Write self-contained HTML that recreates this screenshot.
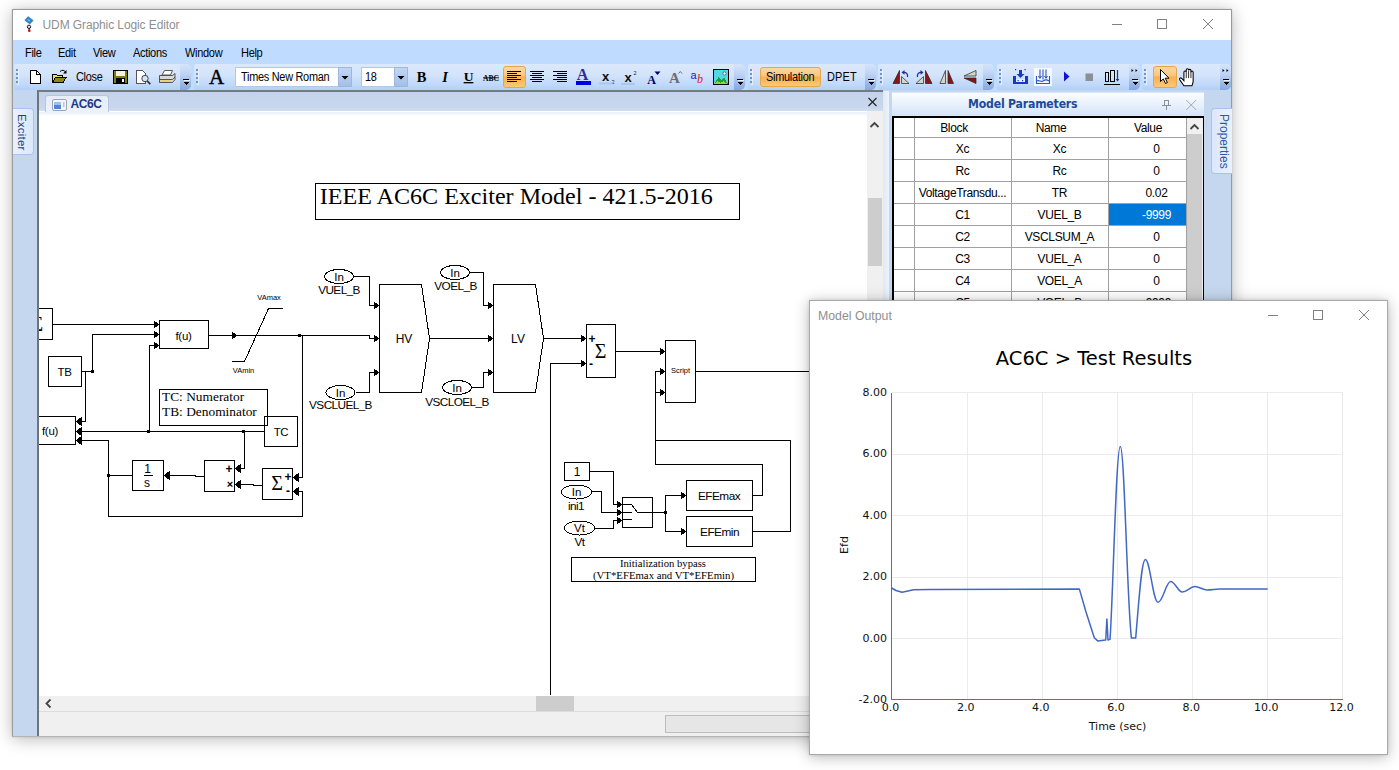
<!DOCTYPE html>
<html lang="en"><head><meta charset="utf-8"><title>UDM Graphic Logic Editor</title>
<style>
*{box-sizing:border-box;margin:0;padding:0}
html,body{width:1399px;height:770px;overflow:hidden;background:#fff}
body{position:relative;font-family:"Liberation Sans",Arial,sans-serif;font-size:12px;color:#000}
.abs{position:absolute}
#main{position:absolute;left:12px;top:9px;width:1220px;height:728px;background:#bfdbff;border:1px solid #9a9a9a;border-bottom-color:#b4b4b4;box-shadow:0 2px 16px rgba(0,0,0,.28),0 0 2px rgba(0,0,0,.12)}
#titlebar{position:absolute;left:13px;top:10px;width:1218px;height:30px;background:#fff}
#titlebar .t{position:absolute;left:29.5px;top:8px;font-size:12px;color:#8f8f8f;white-space:nowrap;letter-spacing:-.1px}
#menubar{position:absolute;left:13px;top:40px;width:1218px;height:24px;background:#bfdbff}
#menubar span{position:absolute;top:5.5px;font-size:12px;color:#000;white-space:nowrap;letter-spacing:-.35px;transform:scaleX(.92);transform-origin:0 50%}
.tb{position:absolute;top:64px;height:26px;border-radius:2px 5px 5px 2px;background:linear-gradient(#dce9fc 0%,#d2e3fb 45%,#c0d8fa 80%,#b3cff7 100%)}
.ovf{position:absolute;top:64px;height:26px;width:11px;border-radius:0 5px 5px 0;background:linear-gradient(#d5e4fa 0%,#bed3f4 40%,#9ab8e9 75%,#86a8e2 100%)}
.grip{position:absolute;top:68.5px;width:2px;height:15px;background:repeating-linear-gradient(#6a94d2 0 2px,transparent 2px 4px);box-shadow:1px 1px 0 rgba(255,255,255,.55)}
.hot{position:absolute;border:1px solid #e8a64a;border-radius:3px;background:linear-gradient(#fcd9a0 0%,#fbc57a 45%,#f9ae4e 50%,#fbc978 100%)}
.tt{position:absolute;font-size:12px;white-space:nowrap;letter-spacing:-.3px;transform:scaleX(.91);transform-origin:0 50%}
#docframe{position:absolute;left:37px;top:90px;width:846px;height:646px;background:#f0f0f0;border-left:2px solid #6d757b;border-top:2px solid #747b81}
#tabstrip{position:absolute;left:39px;top:92px;width:844px;height:20px;background:linear-gradient(#c4d3ea,#c8d7ed 80%,#d6e1f2)}
#canvas{position:absolute;left:39px;top:111px;width:828px;height:585px;background:#fff}
#vscroll{position:absolute;left:867px;top:111px;width:16px;height:585px;background:#f0f0f0}
#hscroll{position:absolute;left:39px;top:696px;width:844px;height:16px;background:#f0f0f0;border-bottom:1px solid #dcdcdc}
#status{position:absolute;left:39px;top:712px;width:1192px;height:24px;background:#f0f0f0}
.vt{position:absolute;writing-mode:vertical-rl;white-space:nowrap;font-size:12.5px;color:#1d3f80}
#mo{position:absolute;left:809px;top:300px;width:579px;height:455px;background:#fff;border:1px solid #a9a9a9;box-shadow:0 2px 14px rgba(0,0,0,.28),0 0 3px rgba(0,0,0,.12)}
svg{position:absolute;left:0;top:0;overflow:visible}
svg text{white-space:pre}
</style></head><body>

<div id="main"></div><div class="abs" style="left:13px;top:90px;width:1218px;height:646px;background:#c5d7ee"></div>
<div id="titlebar"><span class="t">UDM Graphic Logic Editor</span></div>
<div id="menubar">
<span style="left:12px">File</span>
<span style="left:45px">Edit</span>
<span style="left:80px">View</span>
<span style="left:120px">Actions</span>
<span style="left:172px">Window</span>
<span style="left:228px">Help</span>
</div>
<div class="tb" style="left:14px;width:177px"></div>
<div class="ovf" style="left:180px"></div>
<div class="grip" style="left:16px"></div>
<div class="tb" style="left:194px;width:551px"></div>
<div class="ovf" style="left:734px"></div>
<div class="grip" style="left:196px"></div>
<div class="tb" style="left:748px;width:128px"></div>
<div class="ovf" style="left:865px"></div>
<div class="grip" style="left:750px"></div>
<div class="tb" style="left:878px;width:116px"></div>
<div class="ovf" style="left:983px"></div>
<div class="grip" style="left:880px"></div>
<div class="tb" style="left:997px;width:143px"></div>
<div class="ovf" style="left:1129px"></div>
<div class="grip" style="left:999px"></div>
<div class="tb" style="left:1142px;width:89px"></div>
<div class="ovf" style="left:1220px"></div>
<div class="grip" style="left:1144px"></div>
<div class="tt" style="left:76px;top:70px">Close</div>
<div class="abs" style="left:235px;top:67px;width:117px;height:20px;background:#fff;border:1px solid #b3c8e8"></div>
<div class="abs" style="left:338px;top:67px;width:14px;height:20px;background:linear-gradient(#c3d6f3,#a4bfe8);border:1px solid #9db7df"></div>
<div class="tt" style="left:241px;top:70px">Times New Roman</div>
<div class="abs" style="left:361px;top:67px;width:47px;height:20px;background:#fff;border:1px solid #b3c8e8"></div>
<div class="abs" style="left:394px;top:67px;width:14px;height:20px;background:linear-gradient(#c3d6f3,#a4bfe8);border:1px solid #9db7df"></div>
<div class="tt" style="left:365px;top:70px">18</div>
<div class="hot" style="left:503px;top:66px;width:23px;height:22px"></div>
<div class="hot" style="left:760px;top:67px;width:61px;height:20px"></div>
<div class="hot" style="left:1153px;top:66px;width:24px;height:22px"></div>
<div class="tt" style="left:766px;top:70px">Simulation</div>
<div class="tt" style="left:827px;top:70px;letter-spacing:.2px">DPET</div>
<div id="docframe"></div><div id="tabstrip"></div><div id="canvas"></div><div id="vscroll"></div><div id="hscroll"></div><div id="status"></div>
<div class="abs" style="left:45px;top:95px;width:64px;height:17px;background:linear-gradient(#e6edf9,#edf2fa);border:1px solid #b4c6e2;border-bottom:none;border-radius:3px 3px 0 0"></div>
<div class="abs" style="left:39px;top:112px;width:828px;height:3px;background:linear-gradient(#e9eff9,#f7f9fd)"></div>
<div class="abs" style="left:70.5px;top:97px;font-size:12px;font-weight:bold;color:#1c3a82;letter-spacing:-.45px">AC6C</div>
<div class="abs" style="left:868px;top:198px;width:14px;height:68px;background:#cdcdcd"></div>
<div class="abs" style="left:536px;top:696px;width:38px;height:15px;background:#cdcdcd"></div>
<div class="abs" style="left:665px;top:715px;width:566px;height:18px;background:#e6e6e6;border:1px solid #bcbcbc"></div>
<div class="abs" style="left:883px;top:91px;width:6px;height:645px;background:linear-gradient(90deg,#dfe9f7,#eef3fb)"></div>
<div class="abs" style="left:13px;top:108px;width:21px;height:47px;background:linear-gradient(90deg,#e9f1fd,#dbe8fb);border:1px solid #a9c4ea;border-left:none;border-radius:0 4px 4px 0"></div>
<div class="vt" style="left:11.5px;top:114px;width:16px;font-size:11.5px;letter-spacing:.2px">Exciter</div>
<div class="abs" style="left:1211px;top:108px;width:21px;height:66px;background:linear-gradient(90deg,#dbe8fb,#e9f1fd);border:1px solid #a9c4ea;border-right:none;border-radius:4px 0 0 4px"></div>
<div class="vt" style="left:1215px;top:114px;width:16px;color:#2c59aa;font-size:12px">Properties</div>
<div class="abs" style="left:892px;top:92px;width:312px;height:24px;background:linear-gradient(#fbfdff,#e4eefb 60%,#d3e4f9);border-top:1px solid #dbe8fa"></div>
<div class="abs" style="left:968px;top:96px;font-family:'DejaVu Sans', Verdana, sans-serif;font-stretch:condensed;font-weight:bold;font-size:13px;color:#1d4a9a;white-space:nowrap;letter-spacing:-.2px;transform:scaleX(.935);transform-origin:0 50%">Model Parameters</div>
<div class="abs" style="left:892px;top:116px;width:312px;height:200px;background:#fff;border:2px solid #000;border-bottom:none"></div>
<div class="abs" style="left:1187px;top:118px;width:16px;height:190px;background:#f0f0f0"></div>
<div class="abs" style="left:1187px;top:134px;width:15px;height:170px;background:#cdcdcd"></div>
<div class="abs" style="left:894px;top:137px;width:292px;height:1px;background:#a0a0a0"></div>
<div class="abs" style="left:894px;top:117px;width:120px;height:22px;line-height:22px;text-align:center;font-size:12px;white-space:nowrap;letter-spacing:-.35px;color:#000">Block</div>
<div class="abs" style="left:991px;top:117px;width:120px;height:22px;line-height:22px;text-align:center;font-size:12px;white-space:nowrap;letter-spacing:-.35px;color:#000">Name</div>
<div class="abs" style="left:1088px;top:117px;width:120px;height:22px;line-height:22px;text-align:center;font-size:12px;white-space:nowrap;letter-spacing:-.35px;color:#000">Value</div>
<div class="abs" style="left:894px;top:159px;width:292px;height:1px;background:#a0a0a0"></div>
<div class="abs" style="left:902.5px;top:138px;width:120px;height:22px;line-height:22px;text-align:center;font-size:12px;white-space:nowrap;letter-spacing:-.35px;color:#000">Xc</div>
<div class="abs" style="left:999.5px;top:138px;width:120px;height:22px;line-height:22px;text-align:center;font-size:12px;white-space:nowrap;letter-spacing:-.35px;color:#000">Xc</div>
<div class="abs" style="left:1096.5px;top:138px;width:120px;height:22px;line-height:22px;text-align:center;font-size:12px;white-space:nowrap;letter-spacing:-.35px;color:#000">0</div>
<div class="abs" style="left:894px;top:181px;width:292px;height:1px;background:#a0a0a0"></div>
<div class="abs" style="left:902.5px;top:160px;width:120px;height:22px;line-height:22px;text-align:center;font-size:12px;white-space:nowrap;letter-spacing:-.35px;color:#000">Rc</div>
<div class="abs" style="left:999.5px;top:160px;width:120px;height:22px;line-height:22px;text-align:center;font-size:12px;white-space:nowrap;letter-spacing:-.35px;color:#000">Rc</div>
<div class="abs" style="left:1096.5px;top:160px;width:120px;height:22px;line-height:22px;text-align:center;font-size:12px;white-space:nowrap;letter-spacing:-.35px;color:#000">0</div>
<div class="abs" style="left:894px;top:203px;width:292px;height:1px;background:#a0a0a0"></div>
<div class="abs" style="left:902.5px;top:182px;width:120px;height:22px;line-height:22px;text-align:center;font-size:12px;white-space:nowrap;letter-spacing:-.35px;color:#000">VoltageTransdu...</div>
<div class="abs" style="left:999.5px;top:182px;width:120px;height:22px;line-height:22px;text-align:center;font-size:12px;white-space:nowrap;letter-spacing:-.35px;color:#000">TR</div>
<div class="abs" style="left:1096.5px;top:182px;width:120px;height:22px;line-height:22px;text-align:center;font-size:12px;white-space:nowrap;letter-spacing:-.35px;color:#000">0.02</div>
<div class="abs" style="left:894px;top:225px;width:292px;height:1px;background:#a0a0a0"></div>
<div class="abs" style="left:1109px;top:204px;width:77px;height:21px;background:#0078d7"></div>
<div class="abs" style="left:902.5px;top:204px;width:120px;height:22px;line-height:22px;text-align:center;font-size:12px;white-space:nowrap;letter-spacing:-.35px;color:#000">C1</div>
<div class="abs" style="left:999.5px;top:204px;width:120px;height:22px;line-height:22px;text-align:center;font-size:12px;white-space:nowrap;letter-spacing:-.35px;color:#000">VUEL_B</div>
<div class="abs" style="left:1096.5px;top:204px;width:120px;height:22px;line-height:22px;text-align:center;font-size:12px;white-space:nowrap;letter-spacing:-.35px;color:#fff">-9999</div>
<div class="abs" style="left:894px;top:247px;width:292px;height:1px;background:#a0a0a0"></div>
<div class="abs" style="left:902.5px;top:226px;width:120px;height:22px;line-height:22px;text-align:center;font-size:12px;white-space:nowrap;letter-spacing:-.35px;color:#000">C2</div>
<div class="abs" style="left:999.5px;top:226px;width:120px;height:22px;line-height:22px;text-align:center;font-size:12px;white-space:nowrap;letter-spacing:-.35px;color:#000">VSCLSUM_A</div>
<div class="abs" style="left:1096.5px;top:226px;width:120px;height:22px;line-height:22px;text-align:center;font-size:12px;white-space:nowrap;letter-spacing:-.35px;color:#000">0</div>
<div class="abs" style="left:894px;top:269px;width:292px;height:1px;background:#a0a0a0"></div>
<div class="abs" style="left:902.5px;top:248px;width:120px;height:22px;line-height:22px;text-align:center;font-size:12px;white-space:nowrap;letter-spacing:-.35px;color:#000">C3</div>
<div class="abs" style="left:999.5px;top:248px;width:120px;height:22px;line-height:22px;text-align:center;font-size:12px;white-space:nowrap;letter-spacing:-.35px;color:#000">VUEL_A</div>
<div class="abs" style="left:1096.5px;top:248px;width:120px;height:22px;line-height:22px;text-align:center;font-size:12px;white-space:nowrap;letter-spacing:-.35px;color:#000">0</div>
<div class="abs" style="left:894px;top:291px;width:292px;height:1px;background:#a0a0a0"></div>
<div class="abs" style="left:902.5px;top:270px;width:120px;height:22px;line-height:22px;text-align:center;font-size:12px;white-space:nowrap;letter-spacing:-.35px;color:#000">C4</div>
<div class="abs" style="left:999.5px;top:270px;width:120px;height:22px;line-height:22px;text-align:center;font-size:12px;white-space:nowrap;letter-spacing:-.35px;color:#000">VOEL_A</div>
<div class="abs" style="left:1096.5px;top:270px;width:120px;height:22px;line-height:22px;text-align:center;font-size:12px;white-space:nowrap;letter-spacing:-.35px;color:#000">0</div>
<div class="abs" style="left:894px;top:313px;width:292px;height:1px;background:#a0a0a0"></div>
<div class="abs" style="left:902.5px;top:292px;width:120px;height:22px;line-height:22px;text-align:center;font-size:12px;white-space:nowrap;letter-spacing:-.35px;color:#000">C5</div>
<div class="abs" style="left:999.5px;top:292px;width:120px;height:22px;line-height:22px;text-align:center;font-size:12px;white-space:nowrap;letter-spacing:-.35px;color:#000">VOEL_B</div>
<div class="abs" style="left:1096.5px;top:292px;width:120px;height:22px;line-height:22px;text-align:center;font-size:12px;white-space:nowrap;letter-spacing:-.35px;color:#000">-9999</div>
<div class="abs" style="left:914px;top:118px;width:1px;height:190px;background:#a0a0a0"></div>
<div class="abs" style="left:1011px;top:118px;width:1px;height:190px;background:#a0a0a0"></div>
<div class="abs" style="left:1108px;top:118px;width:1px;height:190px;background:#a0a0a0"></div>
<div class="abs" style="left:1186px;top:118px;width:1px;height:190px;background:#a0a0a0"></div>
<svg width="1399" height="770" viewBox="0 0 1399 770"><defs><clipPath id="cv"><rect x="39" y="111" width="828" height="585"/></clipPath></defs>
<g clip-path="url(#cv)" fill="none" stroke="#000" stroke-width="1" shape-rendering="crispEdges"><style>.f{fill:#000;stroke:none}.t{fill:#000;stroke:none}</style>
<rect x="315.5" y="183.5" width="424.0" height="36.0"/>
<text class="t" x="319.8" y="204" font-size="24" text-anchor="start" font-family="'Liberation Serif', 'Times New Roman', serif" textLength="393" lengthAdjust="spacingAndGlyphs">IEEE AC6C Exciter Model - 421.5-2016</text>
<rect x="30.5" y="308.5" width="22.0" height="31.0"/>
<text class="t" x="37.4" y="330.8" font-size="20" text-anchor="middle" font-family="'Liberation Serif', 'Times New Roman', serif" >Σ</text>
<polyline points="52.5,324.5 154.5,324.5"/>
<polygon class="f" points="159.5,324.5 153.5,320.0 153.5,329.0"/>
<rect x="159.5" y="320.5" width="49.0" height="28.0"/>
<text class="t" x="183.5" y="339.5" font-size="11.5" text-anchor="middle" font-family="'Liberation Sans', Arial, sans-serif" letter-spacing="-.3">f(u)</text>
<polyline points="92.5,371.5 92.5,334.5 154.5,334.5"/>
<polygon class="f" points="159.5,334.5 153.5,330.0 153.5,339.0"/>
<rect x="48.5" y="356.5" width="33.0" height="30.0"/>
<text class="t" x="64.5" y="376" font-size="11.5" text-anchor="middle" font-family="'Liberation Sans', Arial, sans-serif" letter-spacing="-.3">TB</text>
<polyline points="81.5,371.5 92.5,371.5"/>
<rect class="f" x="91.0" y="370.0" width="3.0" height="3.0"/>
<polyline points="85.5,371.5 85.5,421.5 80.5,421.5"/>
<polygon class="f" points="75.5,421.5 81.5,417.0 81.5,426.0"/>
<rect x="25.5" y="416.5" width="50.0" height="28.0"/>
<text class="t" x="50" y="435" font-size="11.5" text-anchor="middle" font-family="'Liberation Sans', Arial, sans-serif" letter-spacing="-.3">f(u)</text>
<polyline points="154.5,345.5 149.5,345.5 149.5,431.5"/>
<polygon class="f" points="159.5,345.5 153.5,341.0 153.5,350.0"/>
<rect class="f" x="146.5" y="430.0" width="3.0" height="3.0"/>
<polyline points="80.5,431.5 264.5,431.5"/>
<polygon class="f" points="75.5,431.5 81.5,427.0 81.5,436.0"/>
<rect class="f" x="241.5" y="430.0" width="3.0" height="3.0"/>
<polyline points="244.5,431.5 244.5,468.5 239.5,468.5"/>
<polygon class="f" points="234.5,468.5 240.5,464.0 240.5,473.0"/>
<polyline points="80.5,440.5 108.5,440.5 108.5,516.5 302.5,516.5 302.5,491.5 297.5,491.5"/>
<polygon class="f" points="75.5,440.5 81.5,436.0 81.5,445.0"/>
<polygon class="f" points="292.5,491.5 298.5,487.0 298.5,496.0"/>
<rect class="f" x="107.3" y="474.3" width="2.4" height="2.4"/>
<polyline points="108.5,475.5 132.5,475.5"/>
<rect x="132.5" y="460.5" width="31.0" height="30.0"/>
<text class="t" x="147.5" y="473" font-size="12" text-anchor="middle" font-family="'Liberation Sans', Arial, sans-serif" >1</text>
<polyline points="143.5,475.5 152.5,475.5"/>
<text class="t" x="147" y="487" font-size="12" text-anchor="middle" font-family="'Liberation Sans', Arial, sans-serif" >s</text>
<polygon class="f" points="163.5,475.5 169.5,471.0 169.5,480.0"/>
<polyline points="168.5,475.5 195.5,475.5 195.5,476.5 204.5,476.5"/>
<rect x="204.5" y="460.5" width="30.0" height="31.0"/>
<text class="t" x="229" y="473" font-size="12" text-anchor="middle" font-family="'Liberation Sans', Arial, sans-serif" font-weight="bold">+</text>
<text class="t" x="230" y="488" font-size="11" text-anchor="middle" font-family="'Liberation Sans', Arial, sans-serif" font-weight="bold">×</text>
<polygon class="f" points="234.5,484.5 240.5,480.0 240.5,489.0"/>
<polyline points="239.5,484.5 253.5,484.5 253.5,485.5 262.5,485.5"/>
<rect x="262.5" y="468.5" width="30.0" height="31.0"/>
<text class="t" x="277" y="490.3" font-size="20" text-anchor="middle" font-family="'Liberation Serif', 'Times New Roman', serif" >Σ</text>
<text class="t" x="288" y="481" font-size="12" text-anchor="middle" font-family="'Liberation Sans', Arial, sans-serif" font-weight="bold">+</text>
<text class="t" x="288" y="495" font-size="12" text-anchor="middle" font-family="'Liberation Sans', Arial, sans-serif" font-weight="bold">-</text>
<polygon class="f" points="292.5,477.5 298.5,473.0 298.5,482.0"/>
<polyline points="297.5,477.5 302.5,477.5 302.5,335.5"/>
<rect x="264.5" y="416.5" width="33.0" height="30.0"/>
<text class="t" x="281" y="436" font-size="11.5" text-anchor="middle" font-family="'Liberation Sans', Arial, sans-serif" letter-spacing="-.3">TC</text>
<rect x="159.5" y="389.5" width="108.0" height="36.0"/>
<text class="t" x="162" y="401" font-size="13.4" text-anchor="start" font-family="'Liberation Serif', 'Times New Roman', serif" >TC: Numerator</text>
<text class="t" x="162" y="416" font-size="13.4" text-anchor="start" font-family="'Liberation Serif', 'Times New Roman', serif" >TB: Denominator</text>
<polyline points="208.5,335.5 369.5,335.5 369.5,338.5 374.5,338.5"/>
<polygon class="f" points="237.5,335.5 231.5,331.0 231.5,340.0"/>
<rect class="f" x="298.0" y="334.0" width="3.0" height="3.0"/>
<polygon class="f" points="379.5,338.5 373.5,334.0 373.5,343.0"/>
<polyline points="231.5,361.5 244.5,361.5 268.5,308.5 282.5,308.5"/>
<text class="t" x="269" y="299.5" font-size="7.5" text-anchor="middle" font-family="'Liberation Sans', Arial, sans-serif" >VAmax</text>
<text class="t" x="243.5" y="373" font-size="7.5" text-anchor="middle" font-family="'Liberation Sans', Arial, sans-serif" >VAmin</text>
<ellipse cx="339" cy="276.5" rx="14.5" ry="7"/>
<text class="t" x="339" y="280.5" font-size="11.5" text-anchor="middle" font-family="'Liberation Sans', Arial, sans-serif" >In</text>
<text class="t" x="339" y="294" font-size="11.8" text-anchor="middle" font-family="'Liberation Sans', Arial, sans-serif" letter-spacing="-.6">VUEL_B</text>
<polyline points="353.5,276.5 369.5,276.5 369.5,305.5 374.5,305.5"/>
<polygon class="f" points="379.5,305.5 373.5,301.0 373.5,310.0"/>
<polygon points="379.5,284.5 421.5,284.5 429.5,338.5 421.5,392.5 379.5,392.5"/>
<text class="t" x="404" y="343" font-size="12" text-anchor="middle" font-family="'Liberation Sans', Arial, sans-serif" >HV</text>
<ellipse cx="340.5" cy="392.5" rx="14.5" ry="7"/>
<text class="t" x="340.5" y="396.5" font-size="11.5" text-anchor="middle" font-family="'Liberation Sans', Arial, sans-serif" >In</text>
<text class="t" x="340.5" y="409" font-size="11.8" text-anchor="middle" font-family="'Liberation Sans', Arial, sans-serif" letter-spacing="-.6">VSCLUEL_B</text>
<polyline points="355.5,392.5 369.5,392.5 369.5,372.5 374.5,372.5"/>
<polygon class="f" points="379.5,372.5 373.5,368.0 373.5,377.0"/>
<polyline points="429.5,338.5 488.5,338.5"/>
<polygon class="f" points="493.5,338.5 487.5,334.0 487.5,343.0"/>
<ellipse cx="455" cy="272.5" rx="14.5" ry="7"/>
<text class="t" x="455" y="276.5" font-size="11.5" text-anchor="middle" font-family="'Liberation Sans', Arial, sans-serif" >In</text>
<text class="t" x="455.5" y="290" font-size="11.8" text-anchor="middle" font-family="'Liberation Sans', Arial, sans-serif" letter-spacing="-.6">VOEL_B</text>
<polyline points="469.5,272.5 483.5,272.5 483.5,305.5 488.5,305.5"/>
<polygon class="f" points="493.5,305.5 487.5,301.0 487.5,310.0"/>
<polygon points="493.5,284.5 535.5,284.5 543.5,338.5 535.5,392.5 493.5,392.5"/>
<text class="t" x="518" y="343" font-size="12" text-anchor="middle" font-family="'Liberation Sans', Arial, sans-serif" >LV</text>
<ellipse cx="457" cy="387.5" rx="14.5" ry="7"/>
<text class="t" x="457" y="391.5" font-size="11.5" text-anchor="middle" font-family="'Liberation Sans', Arial, sans-serif" >In</text>
<text class="t" x="457" y="406" font-size="11.8" text-anchor="middle" font-family="'Liberation Sans', Arial, sans-serif" letter-spacing="-.6">VSCLOEL_B</text>
<polyline points="471.5,387.5 483.5,387.5 483.5,372.5 488.5,372.5"/>
<polygon class="f" points="493.5,372.5 487.5,368.0 487.5,377.0"/>
<polyline points="543.5,338.5 581.5,338.5"/>
<polygon class="f" points="586.5,338.5 580.5,334.0 580.5,343.0"/>
<rect x="586.5" y="324.5" width="29.0" height="53.0"/>
<text class="t" x="600.5" y="357.8" font-size="20" text-anchor="middle" font-family="'Liberation Serif', 'Times New Roman', serif" >Σ</text>
<text class="t" x="592" y="343" font-size="12" text-anchor="middle" font-family="'Liberation Sans', Arial, sans-serif" font-weight="bold">+</text>
<text class="t" x="591" y="368" font-size="12" text-anchor="middle" font-family="'Liberation Sans', Arial, sans-serif" font-weight="bold">-</text>
<polyline points="550.5,695 550.5,363.5 581.5,363.5"/>
<polygon class="f" points="586.5,363.5 580.5,359.0 580.5,368.0"/>
<polyline points="615.5,351.5 660.5,351.5"/>
<polygon class="f" points="665.5,351.5 659.5,347.0 659.5,356.0"/>
<rect x="665.5" y="340.5" width="30.0" height="62.0"/>
<text class="t" x="680.5" y="373" font-size="7.5" text-anchor="middle" font-family="'Liberation Sans', Arial, sans-serif" >Script</text>
<polyline points="695.5,371.5 812,371.5"/>
<polyline points="660.5,371.5 655.5,371.5 655.5,464.5 762.5,464.5 762.5,495.5 752.5,495.5"/>
<polygon class="f" points="665.5,371.5 659.5,367.0 659.5,376.0"/>
<polyline points="655.5,392.5 660.5,392.5"/>
<polygon class="f" points="665.5,392.5 659.5,388.0 659.5,397.0"/>
<polyline points="655.5,440.5 790.5,440.5 790.5,531.5 752.5,531.5"/>
<rect x="564.5" y="462.5" width="25.0" height="18.0"/>
<text class="t" x="577" y="476" font-size="12" text-anchor="middle" font-family="'Liberation Sans', Arial, sans-serif" >1</text>
<polyline points="589.5,471.5 613.5,471.5 613.5,504.5 617.5,504.5"/>
<polygon class="f" points="622.5,504.5 616.5,500.0 616.5,509.0"/>
<ellipse cx="576.5" cy="492" rx="15" ry="7"/>
<text class="t" x="576.5" y="496" font-size="11.5" text-anchor="middle" font-family="'Liberation Sans', Arial, sans-serif" >In</text>
<text class="t" x="576" y="510" font-size="11.8" text-anchor="middle" font-family="'Liberation Sans', Arial, sans-serif" letter-spacing="-.6">ini1</text>
<polyline points="591.5,491.5 601.5,491.5 601.5,512.5 617.5,512.5"/>
<polygon class="f" points="622.5,512.5 616.5,508.0 616.5,517.0"/>
<ellipse cx="579.5" cy="528" rx="15" ry="7"/>
<text class="t" x="579.5" y="532" font-size="11.5" text-anchor="middle" font-family="'Liberation Sans', Arial, sans-serif" >Vt</text>
<text class="t" x="579.5" y="546" font-size="11.8" text-anchor="middle" font-family="'Liberation Sans', Arial, sans-serif" letter-spacing="-.6">Vt</text>
<polyline points="594.5,528.5 613.5,528.5 613.5,520.5 617.5,520.5"/>
<polygon class="f" points="622.5,520.5 616.5,516.0 616.5,525.0"/>
<rect x="622.5" y="497.5" width="30.0" height="30.0"/>
<polyline points="622.5,504.5 631.5,504.5 637.5,512.5 665.5,512.5"/>
<polyline points="622.5,512.5 631.5,512.5"/>
<polyline points="622.5,519.5 631.5,519.5"/>
<rect class="f" x="663.5" y="511.0" width="3.0" height="3.0"/>
<polyline points="681.5,495.5 665.5,495.5 665.5,531.5 681.5,531.5"/>
<polygon class="f" points="686.5,495.5 680.5,491.0 680.5,500.0"/>
<polygon class="f" points="686.5,531.5 680.5,527.0 680.5,536.0"/>
<rect x="686.5" y="480.5" width="66.0" height="30.0"/>
<text class="t" x="719" y="500" font-size="11.8" text-anchor="middle" font-family="'Liberation Sans', Arial, sans-serif" letter-spacing="-.5">EFEmax</text>
<rect x="686.5" y="516.5" width="66.0" height="30.0"/>
<text class="t" x="719.5" y="536" font-size="11.8" text-anchor="middle" font-family="'Liberation Sans', Arial, sans-serif" letter-spacing="-.5">EFEmin</text>
<rect x="571.5" y="557.5" width="184.0" height="24.0"/>
<text class="t" x="663" y="567" font-size="10.5" text-anchor="middle" font-family="'Liberation Serif', 'Times New Roman', serif" textLength="86" lengthAdjust="spacingAndGlyphs">Initialization bypass</text>
<text class="t" x="663.5" y="578.5" font-size="10" text-anchor="middle" font-family="'Liberation Serif', 'Times New Roman', serif" textLength="141" lengthAdjust="spacingAndGlyphs">(VT*EFEmax and VT*EFEmin)</text>
</g></svg>
<svg width="1399" height="770" viewBox="0 0 1399 770"><g stroke="#808080" stroke-width="1" fill="none" shape-rendering="crispEdges"><path d="M1112,24.5h10"/><rect x="1157.5" y="19.5" width="9" height="9"/></g>
<g stroke="#808080" stroke-width="1" fill="none"><path d="M1203,19l10,10M1213,19l-10,10"/></g>
<g shape-rendering="crispEdges"><rect x="183.0" y="79" width="6" height="1" fill="#000"/><path d="M183.0,82h6l-3,3z" fill="#000"/><rect x="184.0" y="80" width="6" height="1" fill="#fff" opacity=".8"/></g>
<g shape-rendering="crispEdges"><rect x="737.0" y="79" width="6" height="1" fill="#000"/><path d="M737.0,82h6l-3,3z" fill="#000"/><rect x="738.0" y="80" width="6" height="1" fill="#fff" opacity=".8"/></g>
<g shape-rendering="crispEdges"><rect x="868.0" y="79" width="6" height="1" fill="#000"/><path d="M868.0,82h6l-3,3z" fill="#000"/><rect x="869.0" y="80" width="6" height="1" fill="#fff" opacity=".8"/></g>
<g shape-rendering="crispEdges"><rect x="986.0" y="79" width="6" height="1" fill="#000"/><path d="M986.0,82h6l-3,3z" fill="#000"/><rect x="987.0" y="80" width="6" height="1" fill="#fff" opacity=".8"/></g>
<g shape-rendering="crispEdges"><rect x="1132.0" y="79" width="6" height="1" fill="#000"/><path d="M1132.0,82h6l-3,3z" fill="#000"/><rect x="1133.0" y="80" width="6" height="1" fill="#fff" opacity=".8"/></g>
<g shape-rendering="crispEdges"><rect x="1223.0" y="79" width="6" height="1" fill="#000"/><path d="M1223.0,82h6l-3,3z" fill="#000"/><rect x="1224.0" y="80" width="6" height="1" fill="#fff" opacity=".8"/></g>
<g fill="#000"><path d="M1131.5,69l2,1.5l-2,1.5zM1135.5,69l2,1.5l-2,1.5z"/></g>
<g fill="#000"><path d="M1222.5,69l2,1.5l-2,1.5zM1226.5,69l2,1.5l-2,1.5z"/></g>
<path d="M341.5,76h7l-3.5,3.5zM397.5,76h7l-3.5,3.5z" fill="#000"/>
<g><path d="M24.8,20.2l3.2,-3.6l5.2,3.8l-3.4,3.6z" fill="#2f86c8" stroke="#2a6cb0" stroke-width=".6"/><path d="M27.5,19.5l2.5,1.6" stroke="#7fc0ee" stroke-width="1.2"/><circle cx="29" cy="26.8" r="1.7" fill="#e8e8ee" stroke="#1a1a2a" stroke-width="1"/><path d="M29.2,28.2v1.5" stroke="#222" stroke-width="1.3"/><circle cx="29.3" cy="30.7" r="1.35" fill="#c0181d"/></g>
<path d="M30.5,70.5h6l4,4v8.5h-10z" fill="#fff" stroke="#000" stroke-width="1" shape-rendering="crispEdges"/><path d="M36.5,70.5v4h4" fill="none" stroke="#000" stroke-width="1" shape-rendering="crispEdges"/>
<g shape-rendering="crispEdges"><path d="M52.5,82.5v-8h4l1,1h5v2" fill="#e8e070" stroke="#000"/><path d="M52.5,82.5l3,-5h10.5l-3,5z" fill="#8a8a1a" stroke="#000"/></g><path d="M60,71.5c2,-1.8 4.5,-1.5 5.5,.5" fill="none" stroke="#000" stroke-width="1"/><path d="M66.5,70v3.5h-3.5z" fill="#000"/>
<g shape-rendering="crispEdges"><rect x="113.5" y="70.5" width="14" height="13" fill="#7b7b12" stroke="#000"/><rect x="116" y="71" width="9" height="5" fill="#f4f2e0"/><rect x="116" y="78" width="9" height="5" fill="#000"/><rect x="122" y="79" width="2" height="3" fill="#fff"/></g>
<path d="M136.5,70.5h6l3,3v10h-9z" fill="#fff" stroke="#555" stroke-width="1" shape-rendering="crispEdges"/><circle cx="145" cy="78.5" r="3.2" fill="#cfe6f8" stroke="#444" stroke-width="1"/><path d="M147.3,81l3,3.2" stroke="#333" stroke-width="1.8"/>
<g stroke="#333" stroke-width=".8"><path d="M162,75l2.5,-4.5h8l-2,4.5z" fill="#fff"/><path d="M159.5,75.5h13l2.5,-2v6l-2.5,3h-13z" fill="#d9d9d9"/><path d="M159.5,79.5h13l2.5,-2.5" fill="none"/><rect x="160.5" y="80.3" width="10" height="1.4" fill="#e8d24a" stroke="none"/></g>
<text x="216.5" y="83.8" font-size="21" text-anchor="middle" stroke="#000" stroke-width=".45" font-family="'Liberation Serif', 'Times New Roman', serif" fill="#000">A</text>
<text x="421.5" y="81.5" font-size="14.5" font-weight="bold" text-anchor="middle" font-family="'Liberation Serif', 'Times New Roman', serif" fill="#000">B</text>
<text x="445" y="81.5" font-size="14.5" font-weight="bold" font-style="italic" text-anchor="middle" font-family="'Liberation Serif', 'Times New Roman', serif" fill="#000">I</text>
<text x="468.5" y="81" font-size="13.5" font-weight="bold" text-anchor="middle" font-family="'Liberation Serif', 'Times New Roman', serif" fill="#000" text-decoration="underline">U</text>
<text x="491" y="80.5" font-size="8.5" font-weight="bold" text-anchor="middle" font-family="'Liberation Serif', 'Times New Roman', serif" fill="#000" text-decoration="line-through" textLength="16" lengthAdjust="spacingAndGlyphs">ABC</text>
<g shape-rendering="crispEdges"><rect x="507" y="71" width="14" height="1" fill="#000"/><rect x="507" y="73" width="10" height="1" fill="#000"/><rect x="507" y="75" width="14" height="1" fill="#000"/><rect x="507" y="77" width="10" height="1" fill="#000"/><rect x="507" y="79" width="14" height="1" fill="#000"/><rect x="507" y="81" width="10" height="1" fill="#000"/></g>
<g shape-rendering="crispEdges"><rect x="530.0" y="71" width="14" height="1" fill="#000"/><rect x="532.0" y="73" width="10" height="1" fill="#000"/><rect x="530.0" y="75" width="14" height="1" fill="#000"/><rect x="532.0" y="77" width="10" height="1" fill="#000"/><rect x="530.0" y="79" width="14" height="1" fill="#000"/><rect x="532.0" y="81" width="10" height="1" fill="#000"/></g>
<g shape-rendering="crispEdges"><rect x="553" y="71" width="14" height="1" fill="#000"/><rect x="557" y="73" width="10" height="1" fill="#000"/><rect x="553" y="75" width="14" height="1" fill="#000"/><rect x="557" y="77" width="10" height="1" fill="#000"/><rect x="553" y="79" width="14" height="1" fill="#000"/><rect x="557" y="81" width="10" height="1" fill="#000"/></g>
<text x="582.5" y="80" font-size="16" font-weight="bold" text-anchor="middle" font-family="'Liberation Serif', 'Times New Roman', serif" fill="#2b2b9a">A</text><rect x="576" y="81" width="15" height="4" fill="#0000e0"/>
<text x="605.5" y="81" font-size="13" font-weight="bold" text-anchor="middle" font-family="'Liberation Sans', Arial, sans-serif" fill="#111">x</text><text x="611.5" y="83.5" font-size="5.5" font-family="'Liberation Sans', Arial, sans-serif" fill="#222">2</text><rect x="599" y="82.5" width="14" height="2" fill="#a9bfe4" opacity=".8"/>
<text x="628" y="82" font-size="13" font-weight="bold" text-anchor="middle" font-family="'Liberation Sans', Arial, sans-serif" fill="#111">x</text><text x="633.5" y="75" font-size="5.5" font-family="'Liberation Sans', Arial, sans-serif" fill="#222">2</text><rect x="621" y="83" width="14" height="2" fill="#a9bfe4" opacity=".8"/>
<text x="651.5" y="83.5" font-size="12" font-weight="bold" text-anchor="middle" font-family="'Liberation Serif', 'Times New Roman', serif" fill="#00006a">A</text><path d="M654.5,71.5h6l-3,3.5z" fill="#00006a"/>
<text x="674.5" y="83" font-size="15" font-weight="bold" text-anchor="middle" font-family="'Liberation Serif', 'Times New Roman', serif" fill="#6e6e6e">A</text><path d="M678.5,73.5l1.8,-2l1.8,2" fill="none" stroke="#6e6e6e" stroke-width="1"/>
<text x="690.5" y="78.5" font-size="11" font-family="'Liberation Sans', Arial, sans-serif" fill="#1a1ac8">a</text><text x="697" y="83" font-size="12" font-style="italic" font-family="'Liberation Serif', 'Times New Roman', serif" fill="#d8202a">b</text>
<g shape-rendering="crispEdges"><rect x="713.5" y="69.5" width="15" height="15" fill="#52d8e8" stroke="#000" stroke-width="1.4"/><path d="M714.5,84l4,-7l3,3.5l2.5,-3l4,6.5z" fill="#20a030"/><path d="M714.5,84l3,-3l3,2l3,-2l4,3z" fill="#7ee04a"/></g><circle cx="724.5" cy="73.5" r="1.6" fill="#fff" stroke="#333" stroke-width=".6"/>
<g stroke="#222" stroke-width=".7"><path d="M899.5,70.5v13h-6.5z" fill="#8c1414"/><path d="M901.5,83.5h7.5l-7.5,-7z" fill="#d6d6c8"/></g><path d="M907.5,77c.6,-3 -1.5,-5 -4,-4.6" fill="none" stroke="#1c2f9a" stroke-width="1.3"/><path d="M904.5,70l-3,2.5l3,2.2z" fill="#1c2f9a"/>
<g stroke="#222" stroke-width=".7"><path d="M925.5,70.5v13h6.5z" fill="#8c1414"/><path d="M923.5,83.5h-7.5l7.5,-7z" fill="#d6d6c8"/></g><path d="M917.5,77c-.6,-3 1.5,-5 4,-4.6" fill="none" stroke="#1c2f9a" stroke-width="1.3"/><path d="M920.5,70l3,2.5l-3,2.2z" fill="#1c2f9a"/>
<g stroke="#222" stroke-width=".7"><path d="M945.5,70.5v13h-5.5z" fill="#d6d6c8"/><path d="M948,70.5v13h5.5z" fill="#8c1414"/></g>
<g stroke="#222" stroke-width=".7"><path d="M976,70.5v5.5h-12z" fill="#d6d6c8"/><path d="M976,83.5v-5.5h-12z" fill="#8c1414"/></g>
<g shape-rendering="crispEdges"><path d="M1013,76h3v6h9v-6h3v8h-15z" fill="#1838c8"/><rect x="1016" y="79" width="9" height="3" fill="#fff" opacity=".5"/></g><path d="M1019,70h3v4h2.5l-4,4l-4,-4h2.5z" fill="#1838c8"/><g fill="#1838c8"><rect x="1015" y="69" width="1.2" height="1.2"/><rect x="1024.5" y="69" width="1.2" height="1.2"/><rect x="1017.5" y="80" width="1.2" height="1.2"/><rect x="1022" y="80" width="1.2" height="1.2"/></g>
<rect x="1034" y="68" width="18" height="18" fill="#f4f8ff"/><g fill="none" stroke="#2a58c0" stroke-width="1.1"><path d="M1036.5,76v7.5h13v-7.5"/><path d="M1040,69.5v8M1043,69.5v10M1046,69.5v8"/><path d="M1038.5,76l1.5,2l1.5,-2M1044.5,76l1.5,2l1.5,-2M1037,81c2,-1.5 4,1.5 6,0s4,-1.5 6,0"/></g>
<path d="M1064,71.5l5.5,5l-5.5,5z" fill="#1010e0"/>
<rect x="1085.5" y="73.5" width="7.5" height="7.5" fill="#8a8f98"/>
<g shape-rendering="crispEdges" fill="none" stroke="#000" stroke-width="1.2"><rect x="1105.5" y="72.5" width="3" height="9"/><rect x="1110.5" y="70.5" width="4" height="11"/><path d="M1104,84.5h16" stroke-width="1.4"/></g><path d="M1117.5,70v10" stroke="#1c2f9a" stroke-width="1.2"/><path d="M1115.7,79h3.6l-1.8,2.5z" fill="#1c2f9a"/>
<path d="M1160.5,69.5v12l2.8,-2.6l2.2,4.6l1.9,-.9l-2.2,-4.4h3.8z" fill="#fff" stroke="#000" stroke-width="1" stroke-linejoin="miter"/>
<g transform="translate(1188,77.5) scale(1.17) translate(-1188,-77.5)"><path d="M1184.5,84.5l-3.5,-5c-.8,-1.2 .6,-2.2 1.6,-1.2l1.9,2v-7.3c0,-1.4 2,-1.4 2,0v-2c0,-1.4 2,-1.4 2,0v.6c0,-1.4 2,-1.4 2,0v1.4c0,-1.3 1.9,-1.3 1.9,0v7.5c0,1.5 -.5,2.5 -1,4z" fill="#fff" stroke="#000" stroke-width=".9"/><path d="M1186.5,73v5M1188.5,72v6M1190.5,72.5v5.5" stroke="#000" stroke-width=".7" fill="none"/></g>
<rect x="52.5" y="99.5" width="14" height="11" rx="1.5" fill="#f2f5fa" stroke="#9aa6b8" stroke-width="1"/><rect x="54" y="102" width="7" height="7" fill="#4f86d6"/><rect x="54" y="102" width="7" height="3" fill="#9cc0ee"/><rect x="63" y="102" width="1.5" height="5" fill="#b8c6da"/>
<path d="M868.5,98l8,8M876.5,98l-8,8" stroke="#222" stroke-width="1.1" fill="none"/>
<path d="M870.5,127l4,-4l4,4" stroke="#444" stroke-width="1.8" fill="none"/>
<path d="M1190.5,129l4,-4l4,4" stroke="#444" stroke-width="1.8" fill="none"/>
<path d="M50.5,699.5l-4,4l4,4" stroke="#444" stroke-width="1.8" fill="none"/>
<g stroke="#8a8f9a" stroke-width="1" fill="none" shape-rendering="crispEdges"><path d="M1163.5,100.5h5.5M1164.5,100.5v5M1168.5,100.5v5M1162,105.5h9M1166.5,105.5v4"/></g>
<path d="M1186.2,100l10,10M1196.2,100l-10,10" stroke="#a2aab6" stroke-width="1" fill="none"/></svg>
<div id="mo"></div>
<svg width="1399" height="770" viewBox="0 0 1399 770"><text x="818" y="320" font-size="12.3" fill="#8f8f8f" font-family="'Liberation Sans', Arial, sans-serif">Model Output</text>
<g stroke="#808080" stroke-width="1" fill="none" shape-rendering="crispEdges"><path d="M1268,315.5h10"/><rect x="1313.5" y="310.5" width="9" height="9"/></g>
<g stroke="#808080" stroke-width="1" fill="none"><path d="M1359,310l10,10M1369,310l-10,10"/></g>
<text x="1094" y="365" font-size="19.5" text-anchor="middle" fill="#000" font-family="'DejaVu Sans', Verdana, sans-serif">AC6C &gt; Test Results</text>
<path d="M967.5,392.5V699.5 M1042.5,392.5V699.5 M1117.5,392.5V699.5 M1192.5,392.5V699.5 M1267.5,392.5V699.5 M1342.5,392.5V699.5 M891.5,638.5H1342.5 M891.5,577.5H1342.5 M891.5,515.5H1342.5 M891.5,454.5H1342.5 M891.5,392.5H1342.5" stroke="#ebebeb" stroke-width="1" fill="none" shape-rendering="crispEdges"/>
<path d="M891.5,392.5V699.5H1342.5" stroke="#1f8f8f" stroke-width="1.4" fill="none" shape-rendering="crispEdges"/>
<text x="887" y="703.0" font-size="11" text-anchor="end" fill="#111" font-family="'DejaVu Sans', Verdana, sans-serif">-2.00</text>
<text x="887" y="641.6" font-size="11" text-anchor="end" fill="#111" font-family="'DejaVu Sans', Verdana, sans-serif">0.00</text>
<text x="887" y="580.2" font-size="11" text-anchor="end" fill="#111" font-family="'DejaVu Sans', Verdana, sans-serif">2.00</text>
<text x="887" y="518.8" font-size="11" text-anchor="end" fill="#111" font-family="'DejaVu Sans', Verdana, sans-serif">4.00</text>
<text x="887" y="457.4" font-size="11" text-anchor="end" fill="#111" font-family="'DejaVu Sans', Verdana, sans-serif">6.00</text>
<text x="887" y="396.0" font-size="11" text-anchor="end" fill="#111" font-family="'DejaVu Sans', Verdana, sans-serif">8.00</text>
<text x="890.5" y="711" font-size="11" text-anchor="middle" fill="#111" font-family="'DejaVu Sans', Verdana, sans-serif">0.0</text>
<text x="965.7" y="711" font-size="11" text-anchor="middle" fill="#111" font-family="'DejaVu Sans', Verdana, sans-serif">2.0</text>
<text x="1040.8" y="711" font-size="11" text-anchor="middle" fill="#111" font-family="'DejaVu Sans', Verdana, sans-serif">4.0</text>
<text x="1116.0" y="711" font-size="11" text-anchor="middle" fill="#111" font-family="'DejaVu Sans', Verdana, sans-serif">6.0</text>
<text x="1191.2" y="711" font-size="11" text-anchor="middle" fill="#111" font-family="'DejaVu Sans', Verdana, sans-serif">8.0</text>
<text x="1266.3" y="711" font-size="11" text-anchor="middle" fill="#111" font-family="'DejaVu Sans', Verdana, sans-serif">10.0</text>
<text x="1341.5" y="711" font-size="11" text-anchor="middle" fill="#111" font-family="'DejaVu Sans', Verdana, sans-serif">12.0</text>
<text x="1117.5" y="730" font-size="11" text-anchor="middle" fill="#111" font-family="'DejaVu Sans', Verdana, sans-serif">Time (sec)</text>
<text transform="translate(848,545) rotate(-90)" font-size="11" text-anchor="middle" fill="#111" font-family="'DejaVu Sans', Verdana, sans-serif">Efd</text>
<path d="M891.5,588 L896,590.5 L902,592.3 L908,591 L913.5,589.7 L930,589.4 L1079.4,589.1 L1086,612 L1094.3,637.7 L1097.7,640.9 L1105.7,640 L1106.9,619.1 L1108,640 L1110,639.4 C1113,600 1116,446.6 1120.3,446.6 C1124.5,446.6 1127,600 1131.4,638 L1135.7,638 C1139,600 1141.5,559.4 1145.4,559.4 C1150,559.4 1153,602.3 1158,602.3 C1163,602.3 1166,581.4 1170.6,581.4 C1175,581.4 1178,592 1182.3,592 C1187,592 1190,586.6 1194.9,586.6 C1199,586.6 1203,590 1207,590 C1212,590 1215,589 1220,589 L1267.7,588.9" stroke="#4068c4" stroke-width="1.5" fill="none" stroke-linejoin="round"/></svg>
</body></html>
